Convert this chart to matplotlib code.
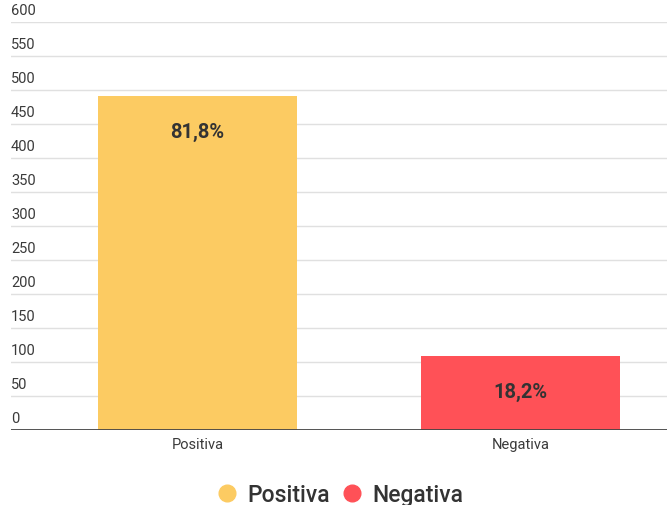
import matplotlib
matplotlib.use("Agg")
import matplotlib.pyplot as plt
from matplotlib.lines import Line2D

categories = ["Positiva", "Negativa"]
values = [491, 109]
labels = ["81,8%", "18,2%"]
colors = ["#FCCB62", "#FF5157"]
yticks = list(range(0, 601, 50))

plt.rcParams['font.family'] = ['Roboto', 'DejaVu Sans']

fig = plt.figure(figsize=(6.67, 5.06), dpi=100)
ax = fig.add_axes([0.0165, 0.148, 0.9835, 0.8075])
x = list(range(len(categories)))
bars = ax.bar(x, values, width=0.616, color=colors, zorder=2)
ax.set_xlim(-0.577, 1.454)
ax.set_ylim(0, 600)

for t in yticks:
    ax.axhline(t, color="#E0E0E0", lw=1, zorder=1)
    ax.annotate(str(t), xy=(0, t), xycoords=("axes fraction", "data"),
                xytext=(0, 3.5), textcoords="offset points", ha="left", va="bottom",
                fontsize=10.5, color="#3a3a3a")
ax.axhline(0, color="#444444", lw=2, zorder=3)

for xi, v, lab in zip(x, values, labels):
    ax.annotate(lab, xy=(xi, v), xytext=(0, -25.5), textcoords="offset points",
                ha="center", va="center", fontsize=14.5, fontweight="bold", color="#333333", zorder=4)

ax.set_yticks([])
ax.set_xticks(x)
ax.set_xticklabels(categories, fontsize=10.5, color="#3a3a3a")
ax.tick_params(axis="x", length=0, pad=5)
for s in ax.spines.values():
    s.set_visible(False)

handles = [Line2D([0], [0], marker="o", linestyle="", markersize=12,
                  markerfacecolor=c, markeredgecolor=c) for c in colors]
fig.legend(handles, categories, loc="center", bbox_to_anchor=(0.511, 0.02),
           ncol=2, frameon=False, prop={"size": 16.5, "weight": "medium"},
           handlelength=0.75, handletextpad=0.55, columnspacing=0.55, labelcolor="#333333")

fig.savefig("out.png", dpi=100)
